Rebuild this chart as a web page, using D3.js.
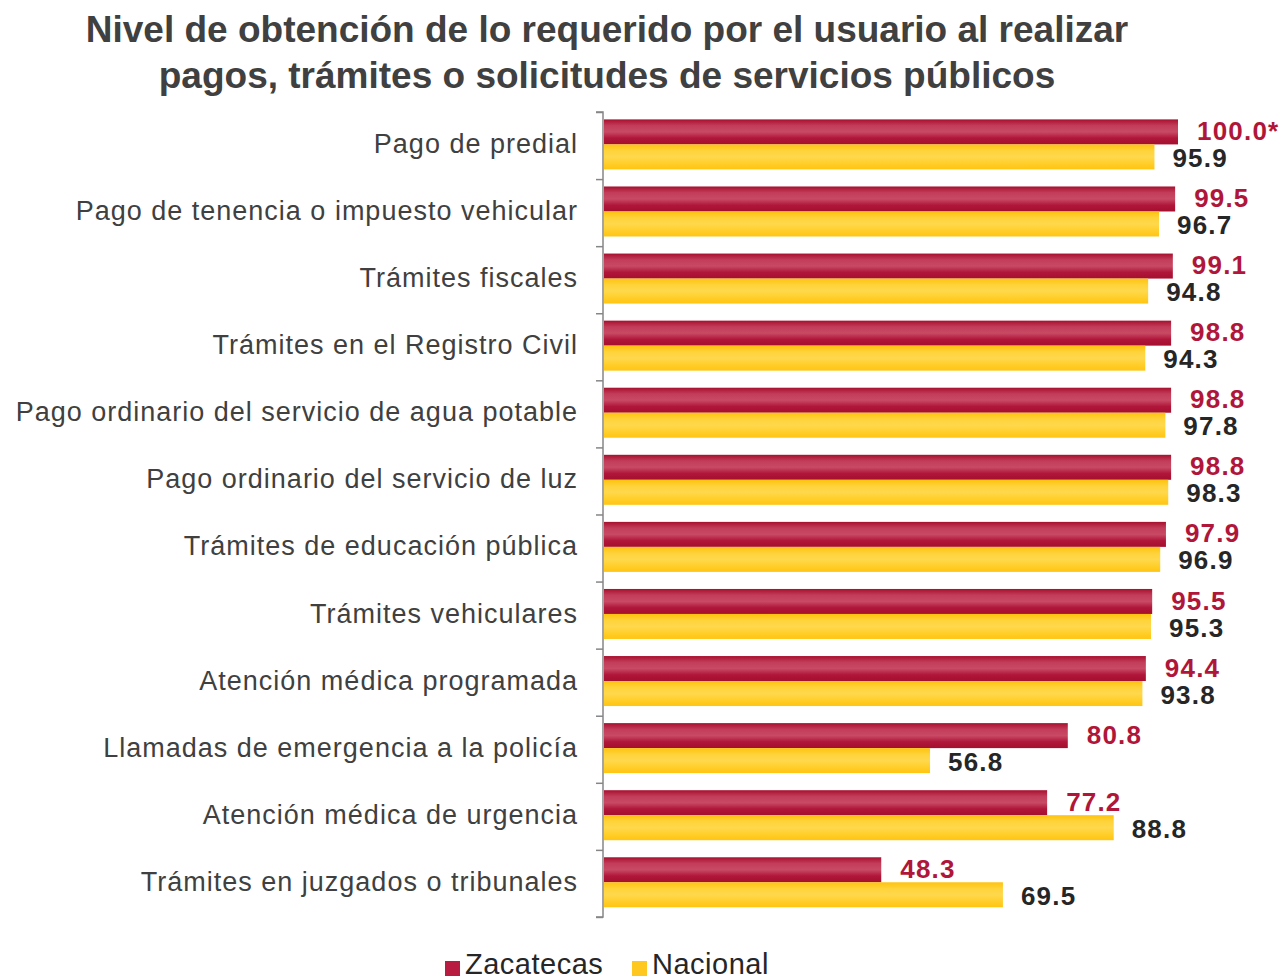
<!DOCTYPE html>
<html>
<head>
<meta charset="utf-8">
<script src="https://cdn.jsdelivr.net/npm/d3@7"></script>
<style>
  body { margin: 0; background: #fff; }
  svg { font-family: "Liberation Sans", Arial, sans-serif; }
</style>
</head>
<body>
<div id="chart"></div>
<script>
const categories = [
  'Pago de predial',
  'Pago de tenencia o impuesto vehicular',
  'Trámites fiscales',
  'Trámites en el Registro Civil',
  'Pago ordinario del servicio de agua potable',
  'Pago ordinario del servicio de luz',
  'Trámites de educación pública',
  'Trámites vehiculares',
  'Atención médica programada',
  'Llamadas de emergencia a la policía',
  'Atención médica de urgencia',
  'Trámites en juzgados o tribunales'
];
const zacatecas = [100.0, 99.5, 99.1, 98.8, 98.8, 98.8, 97.9, 95.5, 94.4, 80.8, 77.2, 48.3];
const nacional = [95.9, 96.7, 94.8, 94.3, 97.8, 98.3, 96.9, 95.3, 93.8, 56.8, 88.8, 69.5];
const zacLabels = ['100.0*', '99.5', '99.1', '98.8', '98.8', '98.8', '97.9', '95.5', '94.4', '80.8', '77.2', '48.3'];
const seriesNames = ['Zacatecas', 'Nacional'];
const titleLines = [
  'Nivel de obtención de lo requerido por el usuario al realizar',
  'pagos, trámites o solicitudes de servicios públicos'
];

const W = 1283, H = 980;
const margin = { top: 112, left: 604, right: 0, bottom: 63 };

const svg = d3.select('#chart')
  .append('svg')
  .attr('width', W)
  .attr('height', H);

const defs = svg.append('defs');
const grads = [
  { id: 'gRed', stops: ['#a8102f', '#c23d5a', '#c84a64', '#b0163a', '#a50f2e'] },
  { id: 'gYel', stops: ['#ffc20e', '#ffd33a', '#ffd84c', '#ffcf2c', '#ffc511'] }
];
grads.forEach((g) => {
  const lg = defs.append('linearGradient')
    .attr('id', g.id)
    .attr('x1', 0).attr('y1', 0).attr('x2', 0).attr('y2', 1);
  g.stops.forEach((c, i) => {
    lg.append('stop')
      .attr('offset', i / (g.stops.length - 1))
      .attr('stop-color', c);
  });
});

// title
svg.append('g')
  .selectAll('text')
  .data(titleLines)
  .enter()
  .append('text')
  .attr('x', 607)
  .attr('y', (d, i) => 42 + i * 46)
  .attr('text-anchor', 'middle')
  .style('font-size', '37px')
  .style('font-weight', 'bold')
  .style('fill', '#404040')
  .text((d) => d);

const y = d3.scaleBand()
  .domain(categories)
  .range([margin.top, margin.top + 12 * 67.08])
  .paddingInner(0)
  .paddingOuter(0);

const x = d3.scaleLinear()
  .domain([0, 100])
  .range([margin.left, margin.left + 574]);

const sub = d3.scaleBand()
  .domain(seriesNames)
  .range([7.4, 57.4]);

// axis
const axis = svg.append('g')
  .attr('transform', `translate(${margin.left - 1},0)`)
  .call(d3.axisLeft(d3.scaleLinear().domain([0, 12]).range([y.range()[0], y.range()[1]]))
    .ticks(12)
    .tickSize(7)
    .tickFormat(''));
axis.selectAll('path, line').attr('stroke', '#868686').attr('stroke-width', 1.5);
axis.select('.domain').attr('d', `M-7,${y.range()[0]}H0V${y.range()[1]}H-7`);

// category labels
svg.append('g')
  .selectAll('text')
  .data(categories)
  .enter()
  .append('text')
  .attr('x', 578)
  .attr('y', (d) => y(d) + y.bandwidth() / 2 - 2)
  .attr('dy', '0.35em')
  .attr('text-anchor', 'end')
  .style('font-size', '27px')
  .style('letter-spacing', '1px')
  .style('fill', '#404040')
  .text((d) => d);

const rows = categories.map((c, i) => ({ c, z: zacatecas[i], n: nacional[i], zl: zacLabels[i] }));

// bars
svg.append('g')
  .selectAll('rect')
  .data(rows)
  .enter()
  .append('rect')
  .attr('x', x(0))
  .attr('y', (d) => y(d.c) + sub('Zacatecas'))
  .attr('width', (d) => x(d.z) - x(0))
  .attr('height', sub.bandwidth())
  .attr('fill', 'url(#gRed)');

svg.append('g')
  .selectAll('rect')
  .data(rows)
  .enter()
  .append('rect')
  .attr('x', x(0))
  .attr('y', (d) => y(d.c) + sub('Nacional'))
  .attr('width', (d) => x(d.n) - x(0))
  .attr('height', sub.bandwidth())
  .attr('fill', 'url(#gYel)');

// value labels
svg.append('g')
  .selectAll('text')
  .data(rows)
  .enter()
  .append('text')
  .attr('x', (d) => x(d.z) + 19)
  .attr('y', (d) => y(d.c) + sub('Zacatecas') + sub.bandwidth() / 2 - 1)
  .attr('dy', '0.35em')
  .style('font-size', '26px')
  .style('letter-spacing', '1.2px')
  .style('font-weight', 'bold')
  .style('fill', '#b0163a')
  .text((d) => d.zl);

svg.append('g')
  .selectAll('text')
  .data(rows)
  .enter()
  .append('text')
  .attr('x', (d) => x(d.n) + 18)
  .attr('y', (d) => y(d.c) + sub('Nacional') + sub.bandwidth() / 2 + 1)
  .attr('dy', '0.35em')
  .style('font-size', '26px')
  .style('letter-spacing', '1.2px')
  .style('font-weight', 'bold')
  .style('fill', '#262626')
  .text((d) => d.n.toFixed(1));

// legend
const legend = svg.append('g');
const legendX = [445, 632];
const legendFill = ['#b81c40', '#ffc820'];
seriesNames.forEach((s, i) => {
  legend.append('rect')
    .attr('x', legendX[i])
    .attr('y', 961)
    .attr('width', 15)
    .attr('height', 15)
    .attr('fill', legendFill[i]);
  legend.append('text')
    .attr('x', legendX[i] + 20)
    .attr('y', 974)
    .style('font-size', '29px')
    .style('letter-spacing', '0.5px')
    .style('fill', '#262626')
    .text(s);
});
</script>
</body>
</html>
